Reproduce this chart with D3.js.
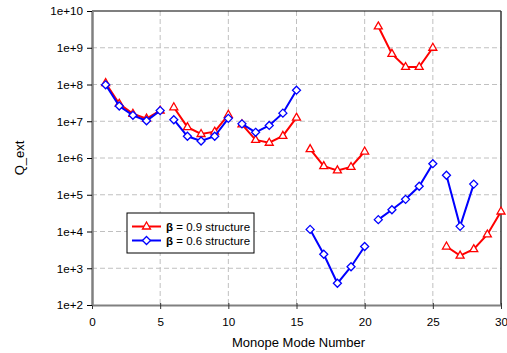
<!DOCTYPE html>
<html>
<head>
<meta charset="utf-8">
<script src="https://cdn.jsdelivr.net/npm/d3@7"></script>
<style>
  body { margin: 0; background: #fff; }
  text { font-family: "Liberation Sans", Arial, sans-serif; }
</style>
</head>
<body>
<div id="graphicContainer"></div>
<script>

// mode numbers 1..30, lines are broken between each group of 5

var modes = d3.range(1, 31);

var beta09 = [1.1e8, 3.0e7, 1.6e7, 1.18e7, 1.95e7,
              2.4e7, 6.9e6, 4.5e6, 5.2e6, 1.5e7,
              8.2e6, 3.1e6, 2.6e6, 4.0e6, 1.25e7,
              1.75e6, 6.0e5, 4.6e5, 5.7e5, 1.5e6,
              3.8e9, 6.8e8, 3.0e8, 3.0e8, 1.0e9,
              3.9e3, 2.2e3, 3.3e3, 8.3e3, 3.5e4];

var beta06 = [9.8e7, 2.6e7, 1.45e7, 1.03e7, 1.95e7,
              1.1e7, 3.9e6, 2.9e6, 3.9e6, 1.2e7,
              8.5e6, 5.0e6, 7.7e6, 1.66e7, 7.0e7,
              1.14e4, 2.4e3, 3.9e2, 1.1e3, 3.9e3,
              2.1e4, 3.9e4, 7.5e4, 1.7e5, 7.0e5,
              3.4e5, 1.38e4, 1.95e5, null, null];

var yTicks = [1e2, 1e3, 1e4, 1e5, 1e6, 1e7, 1e8, 1e9, 1e10];
var xTicks = [0, 5, 10, 15, 20, 25, 30];

var seriesNames = ["0.9", "0.6"];
var seriesColours = ["#ff0000", "#0000ff"];

var width = 507, height = 353;
var margin = {top: 11, right: 6, bottom: 48, left: 92};

var svg = d3.select("#graphicContainer").append("svg")
	.attr("width", width)
	.attr("height", height);

var x = d3.scaleLinear()
	.domain([0, 30])
	.range([margin.left, width - margin.right]);

var y = d3.scaleLog()
	.domain([1e2, 1e10])
	.range([height - margin.bottom, margin.top]);

// grid

svg.append("g")
	.selectAll("line")
	.data(yTicks.slice(1, -1))
	.enter().append("line")
	.attr("x1", x(0)).attr("x2", x(30))
	.attr("y1", d => y(d)).attr("y2", d => y(d))
	.attr("stroke", "#c0c0c0")
	.attr("stroke-dasharray", "5,3");

svg.append("g")
	.selectAll("line")
	.data(xTicks.slice(1, -1))
	.enter().append("line")
	.attr("x1", d => x(d)).attr("x2", d => x(d))
	.attr("y1", y(1e10)).attr("y2", y(1e2))
	.attr("stroke", "#c0c0c0")
	.attr("stroke-dasharray", "5,3");

// frame top / right

svg.append("line")
	.attr("x1", x(0)).attr("x2", x(30))
	.attr("y1", y(1e10)).attr("y2", y(1e10))
	.attr("stroke", "#000").attr("stroke-width", 1.2);

svg.append("line")
	.attr("x1", x(30)).attr("x2", x(30))
	.attr("y1", y(1e10)).attr("y2", y(1e2))
	.attr("stroke", "#333").attr("stroke-width", 1.5);

// axes

var xAxis = svg.append("g")
	.attr("transform", `translate(0,${y(1e2)})`)
	.call(d3.axisBottom(x).tickValues(xTicks).tickSize(4).tickSizeOuter(0));

xAxis.select(".domain").attr("stroke", "#808080").attr("stroke-width", 2);
xAxis.selectAll(".tick line").attr("stroke", "#333").attr("y1", -2);
xAxis.selectAll("text").attr("font-size", 11.7).attr("fill", "#000").attr("dy", "1.2em");

var yAxis = svg.append("g")
	.attr("transform", `translate(${x(0)},0)`)
	.call(d3.axisLeft(y).tickValues(yTicks).tickSize(5).tickSizeOuter(0)
		.tickFormat(d => "1e+" + Math.round(Math.log10(d))));

yAxis.select(".domain").attr("stroke", "#808080").attr("stroke-width", 2.5);
yAxis.selectAll(".tick line").attr("stroke", "#000");
yAxis.selectAll("text").attr("font-size", 11.7).attr("fill", "#000").attr("x", -9);

svg.append("text")
	.attr("transform", `translate(24,${(y(1e2) + y(1e10)) / 2}) rotate(-90)`)
	.attr("text-anchor", "middle")
	.attr("font-size", 13)
	.text("Q_ext");

svg.append("text")
	.attr("x", (x(0) + x(30)) / 2 + 2)
	.attr("y", 347)
	.attr("text-anchor", "middle")
	.attr("font-size", 13)
	.text("Monope Mode Number");

// series - one path per group of five, then the markers on top

function drawSeries(values, colour, marker) {
	var g = svg.append("g");
	d3.range(0, 30, 5).forEach(function(start) {
		var pts = [];
		for (var i = start; i < start + 5; i++) {
			if (values[i] != null) pts.push([modes[i], values[i]]);
		}
		g.append("path")
			.datum(pts)
			.attr("fill", "none")
			.attr("stroke", colour)
			.attr("stroke-width", 2)
			.attr("d", d3.line().x(d => x(d[0])).y(d => y(d[1])));
	});
	var pts = modes.map((m, i) => [m, values[i]]).filter(d => d[1] != null);
	g.selectAll("path.mk")
		.data(pts)
		.enter().append("path")
		.attr("class", "mk")
		.attr("transform", d => `translate(${x(d[0])},${y(d[1])})`)
		.attr("d", marker)
		.attr("fill", "#fff")
		.attr("stroke", colour)
		.attr("stroke-width", 1.3);
}

var triangle = "M0,-4.5L4,2.5L-4,2.5Z";
var diamond = "M0,-4L4,0L0,4L-4,0Z";

drawSeries(beta09, seriesColours[0], triangle);
drawSeries(beta06, seriesColours[1], diamond);

// legend

var legend = svg.append("g").attr("transform", "translate(127,213)");

legend.append("rect")
	.attr("width", 127)
	.attr("height", 40)
	.attr("fill", "#fff")
	.attr("stroke", "#000");

var rows = legend.selectAll("g.row")
	.data(seriesNames)
	.enter().append("g")
	.attr("class", "row")
	.attr("transform", (d, i) => `translate(0,${13.5 + i * 14})`);

rows.append("line")
	.attr("x1", 5).attr("x2", 34)
	.attr("stroke", (d, i) => seriesColours[i])
	.attr("stroke-width", 2);

rows.append("path")
	.attr("transform", "translate(19.5,0)")
	.attr("d", (d, i) => i == 0 ? triangle : diamond)
	.attr("fill", "#fff")
	.attr("stroke", (d, i) => seriesColours[i])
	.attr("stroke-width", 1.3);

var labels = rows.append("text")
	.attr("x", 39)
	.attr("y", 4)
	.attr("font-size", 11.5);

labels.append("tspan").attr("font-weight", "bold").text("β");
labels.append("tspan").text(d => " = " + d + " structure");

</script>
</body>
</html>
